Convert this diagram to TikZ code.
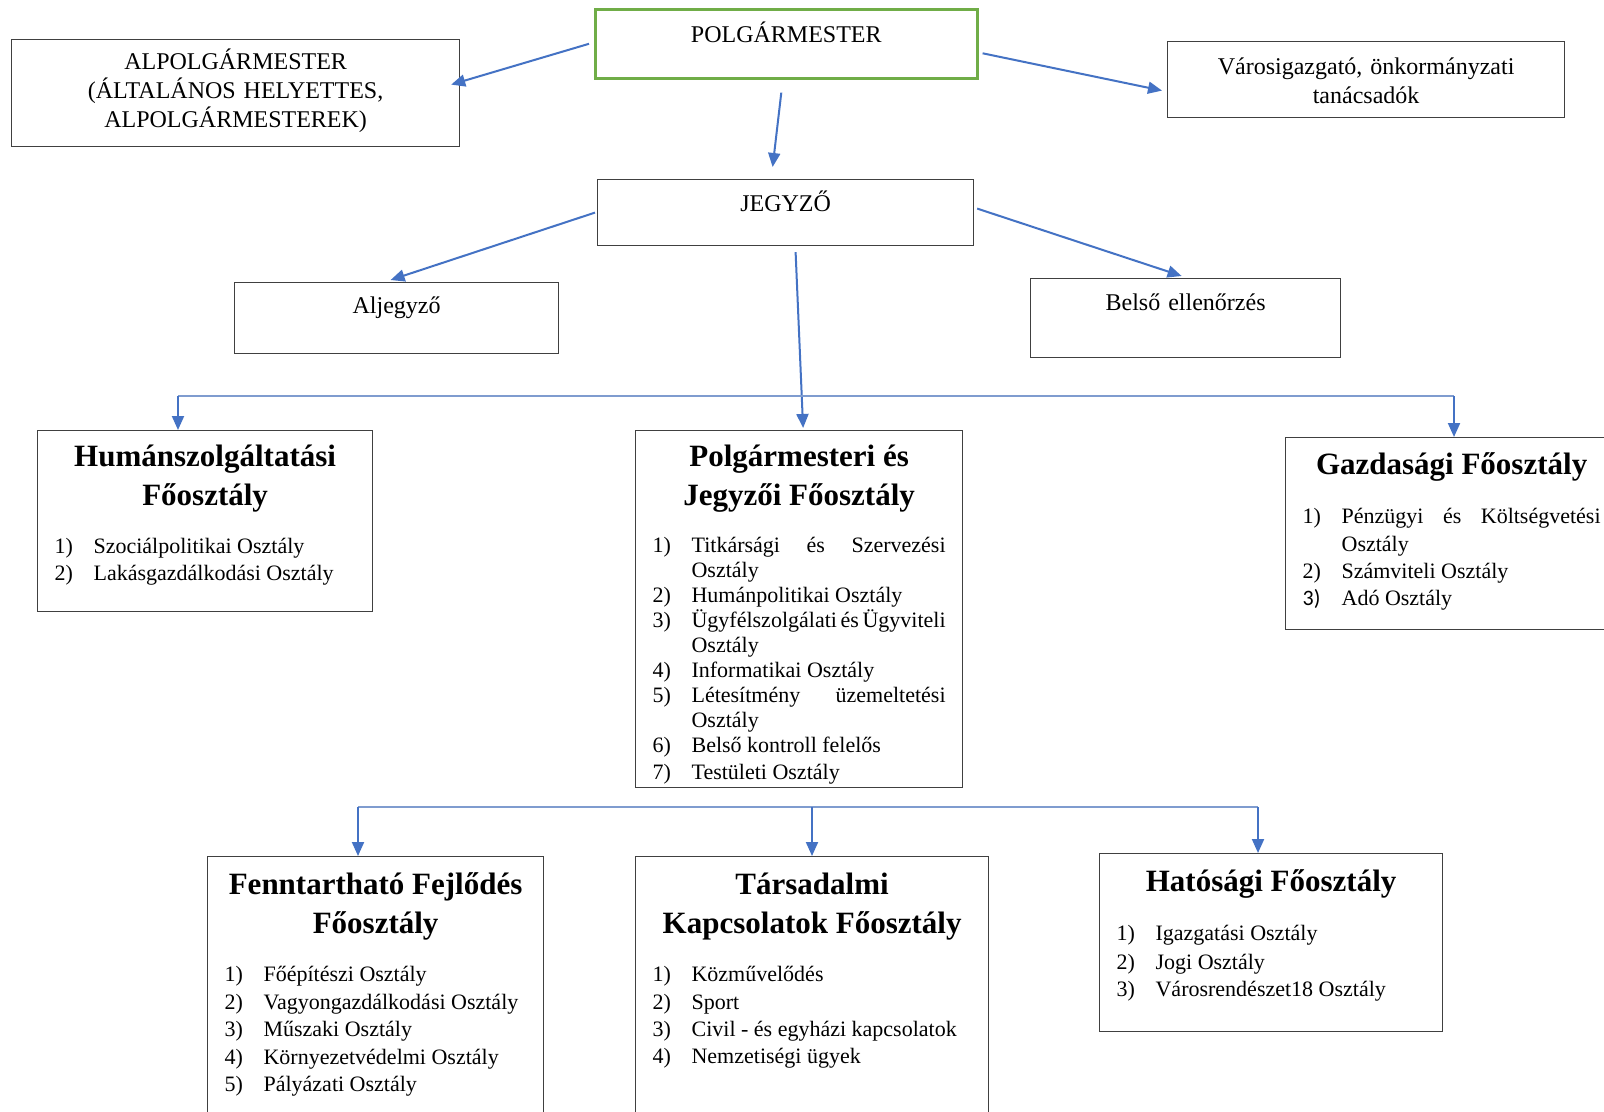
\documentclass[tikz,border=0pt]{standalone}
\usepackage{fontspec}
\setmainfont{Liberation Serif}
\newfontfamily\calibrifont{Carlito}
\usetikzlibrary{arrows.meta}
\definecolor{arrowblue}{HTML}{4472C4}
\definecolor{busblue}{HTML}{7F9CCF}
\definecolor{boxgreen}{HTML}{70AD47}
\definecolor{boxline}{HTML}{404040}
\hyphenpenalty=10000
\exhyphenpenalty=10000
\newcommand{\titlefont}{\bfseries\fontsize{15.5}{19.5}\selectfont}
\newcommand{\listfont}[1]{\fontsize{11}{#1}\selectfont}
\newcommand{\fotitle}[1]{{\titlefont\centering #1\par}}
\newcommand{\tetel}[2]{\par\noindent\hangindent=19.5pt\hangafter=1\makebox[19.5pt][l]{#1}#2}

\begin{document}
\begin{tikzpicture}[x=0.5pt,y=-0.5pt,
		orgbox/.style n args={3}{draw=boxline,line width=0.6pt,anchor=north west,inner xsep=8.5pt,inner ysep=0pt,text width=#1,text height=#2,text depth=#3},
		topbox/.style={font=\fontsize{12}{14.5}\selectfont,align=center},
		unitbox/.style={font=\fontsize{11}{13.5}\selectfont,align=justify},
		arrow/.style={draw=arrowblue,line width=1pt,-{Triangle[length=7pt,width=6pt]}},
		bus/.style={draw=busblue,line width=0.6pt}]
			\path[use as bounding box,fill=white] (0,0) rectangle (1604,1112);
			\clip (0,0) rectangle (1604,1112);
			\node[orgbox={174pt}{16.5pt}{18pt},topbox,draw=boxgreen,line width=1.3pt] (nodePolg) at (594,8) {POLGÁRMESTER};
			\node[orgbox={207pt}{15pt}{38.5pt},topbox] (nodeAlpol) at (11,39) {ALPOLGÁRMESTER\\(ÁLTALÁNOS HELYETTES,\\ALPOLGÁRMESTEREK)};
			\node[orgbox={181.5pt}{16.5pt}{21.5pt},topbox] (nodeVaros) at (1167,41) {Városigazgató, önkormányzati\\tanácsadók};
			\node[orgbox={171pt}{16pt}{17pt},topbox] (nodeJegyzo) at (597,179) {JEGYZŐ};
			\node[orgbox={145pt}{15.5pt}{20pt},topbox] (nodeAljegyzo) at (234,282) {Aljegyző};
			\node[orgbox={138pt}{16pt}{23.5pt},topbox] (nodeBelso) at (1030,278) {Belső ellenőrzés};
			\node[orgbox={150.5pt}{18pt}{72.5pt},unitbox] (nodeHuman) at (37,430) {%
				\fotitle{Humánszolgáltatási\\Főosztály}
				\listfont{13.5pt}\vspace{10.5pt}
				\tetel{1)}{Szociálpolitikai Osztály}
				\tetel{2)}{Lakásgazdálkodási Osztály}};
			\node[orgbox={146.5pt}{18pt}{160.5pt},unitbox] (nodePolgJ) at (635,430) {%
				\fotitle{Polgármesteri és\\Jegyzői Főosztály}
				\listfont{12.5pt}\vspace{11pt}
				\tetel{1)}{Titkársági és Szervezési\linebreak Osztály}
				\tetel{2)}{Humánpolitikai Osztály}
				\tetel{3)}{\hbox to \dimexpr\linewidth-19.5pt\relax{Ügyfélszolgálati\hfil és\hfil Ügyviteli}\linebreak Osztály}
				\tetel{4)}{Informatikai Osztály}
				\tetel{5)}{Létesítmény üzemeltetési\linebreak Osztály}
				\tetel{6)}{Belső kontroll felelős}
				\tetel{7)}{Testületi Osztály}};
			\node[orgbox={149pt}{18.5pt}{77.5pt},unitbox] (nodeGazd) at (1285,437) {%
				\fotitle{Gazdasági Főosztály}
				\listfont{13.8pt}\vspace{10.7pt}
				\tetel{1)}{Pénzügyi és Költségvetési\linebreak Osztály}
				\tetel{2)}{Számviteli Osztály}
				\tetel{{\calibrifont 3)}}{Adó Osztály}};
			\node[orgbox={151pt}{19pt}{118pt},unitbox] (nodeFennt) at (207,856) {%
				\fotitle{Fenntartható Fejlődés\\Főosztály}
				\listfont{13.8pt}\vspace{10.2pt}
				\tetel{1)}{Főépítészi Osztály}
				\tetel{2)}{Vagyongazdálkodási Osztály}
				\tetel{3)}{Műszaki Osztály}
				\tetel{4)}{Környezetvédelmi Osztály}
				\tetel{5)}{Pályázati Osztály}};
			\node[orgbox={159.5pt}{19pt}{118pt},unitbox] (nodeTars) at (635,856) {%
				\fotitle{Társadalmi\\Kapcsolatok Főosztály}
				\listfont{13.8pt}\vspace{10.2pt}
				\tetel{1)}{Közművelődés}
				\tetel{2)}{Sport}
				\tetel{3)}{Civil - és egyházi kapcsolatok}
				\tetel{4)}{Nemzetiségi ügyek}};
			\node[orgbox={154.5pt}{19pt}{70pt},unitbox] (nodeHat) at (1099,853) {%
				\fotitle{Hatósági Főosztály}
				\listfont{14.3pt}\vspace{10.2pt}
				\tetel{1)}{Igazgatási Osztály}
				\tetel{2)}{Jogi Osztály}
				\tetel{3)}{Városrendészet18 Osztály}};
			\coordinate (busAL) at (178,396);
			\coordinate (busAR) at (1454,396);
			\coordinate (busBL) at (358,807);
			\coordinate (busBM) at (812,807);
			\coordinate (busBR) at (1258,807);
			\draw[arrow] ([xshift=-2.5pt]nodePolg.west) -- ([xshift=-4.5pt,yshift=4.25pt]nodeAlpol.east);
			\draw[arrow] ([xshift=2pt,yshift=-4.75pt]nodePolg.east) -- ([xshift=-2.5pt,yshift=-5.5pt]nodeVaros.west);
			\draw[arrow] ([xshift=-2.5pt,yshift=-6.5pt]nodePolg.south) -- ([xshift=-6.5pt,yshift=6pt]nodeJegyzo.north);
			\draw[arrow] ([xshift=-1pt]nodeJegyzo.west) -- ([xshift=-3pt,yshift=1pt]nodeAljegyzo.north);
			\draw[arrow] ([xshift=1.5pt,yshift=2pt]nodeJegyzo.east) -- ([xshift=-2pt,yshift=1pt]nodeBelso.north);
			\draw[arrow] ([xshift=5pt,yshift=-3pt]nodeJegyzo.south) -- ([xshift=2pt,yshift=1pt]nodePolgJ.north);
			\draw[bus] (busAL) -- (busAR);
			\draw[arrow] (busAL) -- (busAL |- nodeHuman.north);
			\draw[arrow] (busAR) -- (busAR |- nodeGazd.north);
			\draw[bus] (busBL) -- (busBR);
			\draw[arrow] (busBL) -- (busBL |- nodeFennt.north);
			\draw[arrow] (busBM) -- (busBM |- nodeTars.north);
			\draw[arrow] (busBR) -- (busBR |- nodeHat.north);
		\end{tikzpicture}
\end{document}
